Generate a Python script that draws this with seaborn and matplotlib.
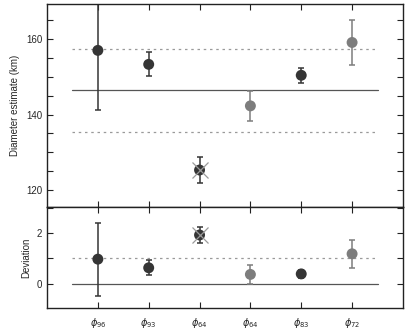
import numpy as np
import pandas as pd
import matplotlib
matplotlib.use("Agg")
import matplotlib.pyplot as plt
import seaborn as sns
from matplotlib.ticker import MultipleLocator

# Values
labels = [r"$\phi_{96}$", r"$\phi_{93}$", r"$\phi_{64}$", r"$\phi_{64}$", r"$\phi_{83}$", r"$\phi_{72}$"]
diam = [157.0, 153.3, 125.3, 142.3, 150.4, 159.1]
diam_err = [15.7, 3.2, 3.5, 4.0, 2.0, 6.0]
dev = [0.97, 0.63, 1.92, 0.37, 0.39, 1.18]
dev_err = [1.43, 0.29, 0.31, 0.36, 0.15, 0.54]
shade = ["dark", "dark", "dark", "light", "dark", "light"]
mean_diam = 146.4
sigma_diam = 10.9

df = pd.DataFrame({"pos": np.arange(1, 7), "diam": diam, "diam_err": diam_err,
                   "dev": dev, "dev_err": dev_err, "shade": shade})
colors = {"dark": "#353535", "light": "#7d7d7d"}

sns.set_style("ticks")
plt.rcParams["font.family"] = ["Liberation Sans", "DejaVu Sans"]
plt.rcParams["mathtext.fontset"] = "dejavusans"

fig = plt.figure(figsize=(4.07, 3.30), dpi=100)
ax1 = fig.add_axes([0.1155, 0.3727, 0.8745, 0.6153])
ax2 = fig.add_axes([0.1155, 0.0667, 0.8745, 0.3060])

# Top panel: diameter estimates
ax1.axhline(mean_diam, xmin=0.5 / 7, xmax=6.5 / 7, color="#555555", lw=0.9)
for v in (mean_diam - sigma_diam, mean_diam + sigma_diam):
    ax1.axhline(v, xmin=0.5 / 7, xmax=6.5 / 7, color="#9a9a9a", lw=0.9, dashes=(2, 3))
for _, r in df.iterrows():
    ax1.errorbar(r["pos"], r["diam"], yerr=r["diam_err"], fmt="none",
                 ecolor=colors[r["shade"]], elinewidth=1.1, capsize=2.5, capthick=1.1)
ax1.plot(df["pos"][2], df["diam"][2], marker="x", ms=12, mew=0.9, color="#9a9a9a", zorder=4)
sns.scatterplot(data=df, x="pos", y="diam", hue="shade", palette=colors, s=62,
                edgecolor="none", legend=False, ax=ax1, zorder=3)
ax1.set_xlim(0, 7)
ax1.set_ylim(115.5, 169.3)
ax1.yaxis.set_major_locator(MultipleLocator(20))
ax1.yaxis.set_minor_locator(MultipleLocator(5))
ax1.set_xticks(df["pos"])
ax1.set_xticklabels([])
ax1.set_xlabel("")
ax1.set_ylabel("Diameter estimate (km)", fontsize=7)

# Bottom panel: deviation
ax2.axhline(0, xmin=0.5 / 7, xmax=6.5 / 7, color="#555555", lw=0.9)
ax2.axhline(1, xmin=0.5 / 7, xmax=6.5 / 7, color="#9a9a9a", lw=0.9, dashes=(2, 3))
for _, r in df.iterrows():
    ax2.errorbar(r["pos"], r["dev"], yerr=r["dev_err"], fmt="none",
                 ecolor=colors[r["shade"]], elinewidth=1.1, capsize=2.5, capthick=1.1)
ax2.plot(df["pos"][2], df["dev"][2], marker="x", ms=12, mew=0.9, color="#9a9a9a", zorder=4)
sns.scatterplot(data=df, x="pos", y="dev", hue="shade", palette=colors, s=62,
                edgecolor="none", legend=False, ax=ax2, zorder=3)
ax2.set_xlim(0, 7)
ax2.set_ylim(-0.95, 3.02)
ax2.yaxis.set_major_locator(MultipleLocator(2))
ax2.yaxis.set_minor_locator(MultipleLocator(1))
ax2.set_xticks(df["pos"])
ax2.set_xticklabels(labels)
ax2.set_xlabel("")
ax2.set_ylabel("Deviation", fontsize=7)

for ax in (ax1, ax2):
    for s in ax.spines.values():
        s.set_visible(True)
        s.set_linewidth(1.0)
        s.set_color("#222222")
    ax.tick_params(which="both", direction="in", top=True, right=True,
                   length=4, width=0.8, color="#222222", labelsize=7)
ax2.tick_params(axis="x", pad=6, labelsize=7)

fig.savefig("out.png", dpi=100)
